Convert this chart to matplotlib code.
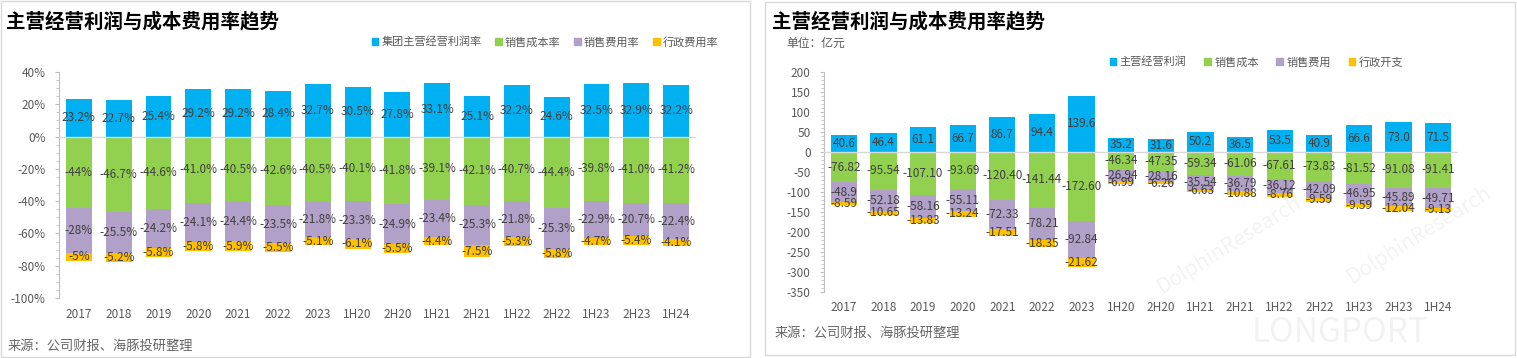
import numpy as np
import matplotlib
matplotlib.use('Agg')
import matplotlib.pyplot as plt
import matplotlib.ticker as mticker
from matplotlib.patches import Rectangle, Patch

plt.rcParams['font.family'] = ['Noto Sans CJK SC', 'DejaVu Sans']
plt.rcParams['axes.unicode_minus'] = False

W, H = 1517, 358

# ==================== 数据 ====================
periods = ['2017', '2018', '2019', '2020', '2021', '2022', '2023', '1H20',
           '2H20', '1H21', '2H21', '1H22', '2H22', '1H23', '2H23', '1H24']

# 左图: 费用率 (%)
rate_profit = [23.2, 22.7, 25.4, 29.2, 29.2, 28.4, 32.7, 30.5,
               27.8, 33.1, 25.1, 32.2, 24.6, 32.5, 32.9, 32.2]
rate_cost = [-44, -46.7, -44.6, -41.0, -40.5, -42.6, -40.5, -40.1,
             -41.8, -39.1, -42.1, -40.7, -44.4, -39.8, -41.0, -41.2]
rate_sell = [-28, -25.5, -24.2, -24.1, -24.4, -23.5, -21.8, -23.3,
             -24.9, -23.4, -25.3, -21.8, -25.3, -22.9, -20.7, -22.4]
rate_admin = [-5, -5.2, -5.8, -5.8, -5.9, -5.5, -5.1, -6.1,
              -5.5, -4.4, -7.5, -5.3, -5.8, -4.7, -5.4, -4.1]

# 右图: 金额 (亿元)
amt_profit = [40.6, 46.4, 61.1, 66.7, 86.7, 94.4, 139.6, 35.2,
              31.6, 50.2, 36.5, 53.5, 40.9, 66.6, 73.0, 71.5]
amt_cost = [-76.82, -95.54, -107.10, -93.69, -120.40, -141.44, -172.60, -46.34,
            -47.35, -59.34, -61.06, -67.61, -73.83, -81.52, -91.08, -91.41]
amt_sell = [-48.9, -52.18, -58.16, -55.11, -72.33, -78.21, -92.84, -26.94,
            -28.16, -35.54, -36.79, -36.12, -42.09, -46.95, -45.89, -49.71]
amt_admin = [-8.59, -10.65, -13.83, -13.24, -17.51, -18.35, -21.62, -6.99,
             -6.26, -6.63, -10.88, -8.76, -9.59, -9.59, -12.04, -9.13]

C_BLUE = '#00B0F0'
C_GREEN = '#92D050'
C_PURPLE = '#B1A0C7'
C_ORANGE = '#FFC000'
C_TEXT = '#595959'
C_LABEL = '#404040'
C_AXIS = '#BFBFBF'

fig = plt.figure(figsize=(W / 100, H / 100), dpi=100)


def px_axes(x0, x1, ytop, ybot):
    return fig.add_axes([x0 / W, 1 - ybot / H, (x1 - x0) / W, (ybot - ytop) / H])


def draw_stack(ax, pos, negs, fmts, width):
    x = np.arange(len(periods))
    ax.bar(x, pos, width, color=C_BLUE, zorder=2)
    for i, v in enumerate(pos):
        ax.text(i, v / 2, fmts[0](i, v), ha='center', va='center',
                fontsize=8.5, color=C_LABEL, zorder=5)
    bottom = np.zeros(len(periods))
    for vals, col, fmt in zip(negs, [C_GREEN, C_PURPLE, C_ORANGE], fmts[1:]):
        ax.bar(x, vals, width, bottom=bottom, color=col, zorder=2)
        for i, v in enumerate(vals):
            ax.text(i, bottom[i] + v / 2, fmt(i, v), ha='center', va='center',
                    fontsize=8.5, color=C_LABEL, zorder=5)
        bottom += np.array(vals, dtype=float)
    ax.set_xlim(-0.5, len(periods) - 0.5)
    ax.set_xticks(x)
    ax.set_xticklabels(periods)
    ax.axhline(0, color='#D9D9D9', lw=1, zorder=3)
    for sp in ['top', 'right', 'bottom']:
        ax.spines[sp].set_visible(False)
    ax.spines['left'].set_color(C_AXIS)
    ax.tick_params(axis='y', which='major', length=3, color=C_AXIS,
                   labelcolor=C_TEXT, labelsize=8.5, pad=6.5)
    ax.tick_params(axis='y', which='minor', length=2, color=C_AXIS)
    ax.tick_params(axis='x', length=0, labelcolor=C_TEXT, labelsize=8.5, pad=7)
    ax.patch.set_alpha(0)


# ==================== 左图 ====================
ax1 = px_axes(59, 696, 72, 298)
draw_stack(ax1, rate_profit, [rate_cost, rate_sell, rate_admin],
           [lambda i, v: f'{v}%'] * 4, 0.65)
ax1.set_ylim(-100, 40)
ax1.yaxis.set_major_locator(mticker.MultipleLocator(20))
ax1.yaxis.set_minor_locator(mticker.MultipleLocator(5))
ax1.yaxis.set_major_formatter(mticker.FuncFormatter(lambda v, p: f'{v:.0f}%'))

fig.text(6 / W, 1 - 22 / H, '主营经营利润与成本费用率趋势', fontsize=14,
         fontweight='bold', color='black', va='center')
fig.text(8 / W, 1 - 346 / H, '来源：公司财报、海豚投研整理', fontsize=9.5,
         color='#666666', va='center')
fig.legend(handles=[Patch(color=C_BLUE, label='集团主营经营利润率'),
                    Patch(color=C_GREEN, label='销售成本率'),
                    Patch(color=C_PURPLE, label='销售费用率'),
                    Patch(color=C_ORANGE, label='行政费用率')],
           loc='center left', bbox_to_anchor=(366 / W, 1 - 42 / H), ncol=4,
           frameon=False, fontsize=8, handlelength=0.6, handleheight=0.6,
           handletextpad=0.3, columnspacing=1.2, borderpad=0,
           labelcolor=C_TEXT)

# ==================== 右图 ====================
ax2 = px_axes(824, 1458, 71.7, 291.7)
draw_stack(ax2, amt_profit, [amt_cost, amt_sell, amt_admin],
           [lambda i, v: f'{v:.1f}',
            lambda i, v: f'{v:.2f}',
            lambda i, v: f'{v:.1f}' if i == 0 else f'{v:.2f}',
            lambda i, v: f'{v:.2f}'], 0.66)
ax2.set_ylim(-350, 200)
ax2.yaxis.set_major_locator(mticker.MultipleLocator(50))
ax2.yaxis.set_minor_locator(mticker.MultipleLocator(10))
ax2.yaxis.set_major_formatter(mticker.FuncFormatter(lambda v, p: f'{v:.0f}'))

fig.text(772 / W, 1 - 22 / H, '主营经营利润与成本费用率趋势', fontsize=14,
         fontweight='bold', color='black', va='center')
fig.text(786 / W, 1 - 43 / H, '单位：亿元', fontsize=8.5, color=C_TEXT, va='center')
fig.text(775 / W, 1 - 333 / H, '来源：公司财报、海豚投研整理', fontsize=9.5,
         color='#666666', va='center')
fig.legend(handles=[Patch(color=C_BLUE, label='主营经营利润'),
                    Patch(color=C_GREEN, label='销售成本'),
                    Patch(color=C_PURPLE, label='销售费用'),
                    Patch(color=C_ORANGE, label='行政开支')],
           loc='center left', bbox_to_anchor=(1104 / W, 1 - 62 / H), ncol=4,
           frameon=False, fontsize=8, handlelength=0.6, handleheight=0.6,
           handletextpad=0.3, columnspacing=1.6, borderpad=0,
           labelcolor=C_TEXT)

# ==================== 水印 & 边框 ====================
for (x, y) in [(1230, 245), (1420, 235)]:
    fig.text(x / W, 1 - y / H, 'DolphinResearch', fontsize=15, rotation=32,
             color='#000000', alpha=0.05, ha='center', va='center', zorder=0)
fig.text(1340 / W, 1 - 333 / H, 'LONGPORT', fontsize=24, color='#000000',
         alpha=0.05, ha='center', va='center', zorder=0)

fig.patches.append(Rectangle((0.5 / W, 1 - 357 / H), 749 / W, 356 / H,
                             transform=fig.transFigure, fill=False,
                             edgecolor='#D9D9D9', lw=1))
fig.patches.append(Rectangle((765 / W, 1 - 355 / H), 750 / W, 353 / H,
                             transform=fig.transFigure, fill=False,
                             edgecolor='#D9D9D9', lw=1))

fig.savefig('out.png', dpi=100)
